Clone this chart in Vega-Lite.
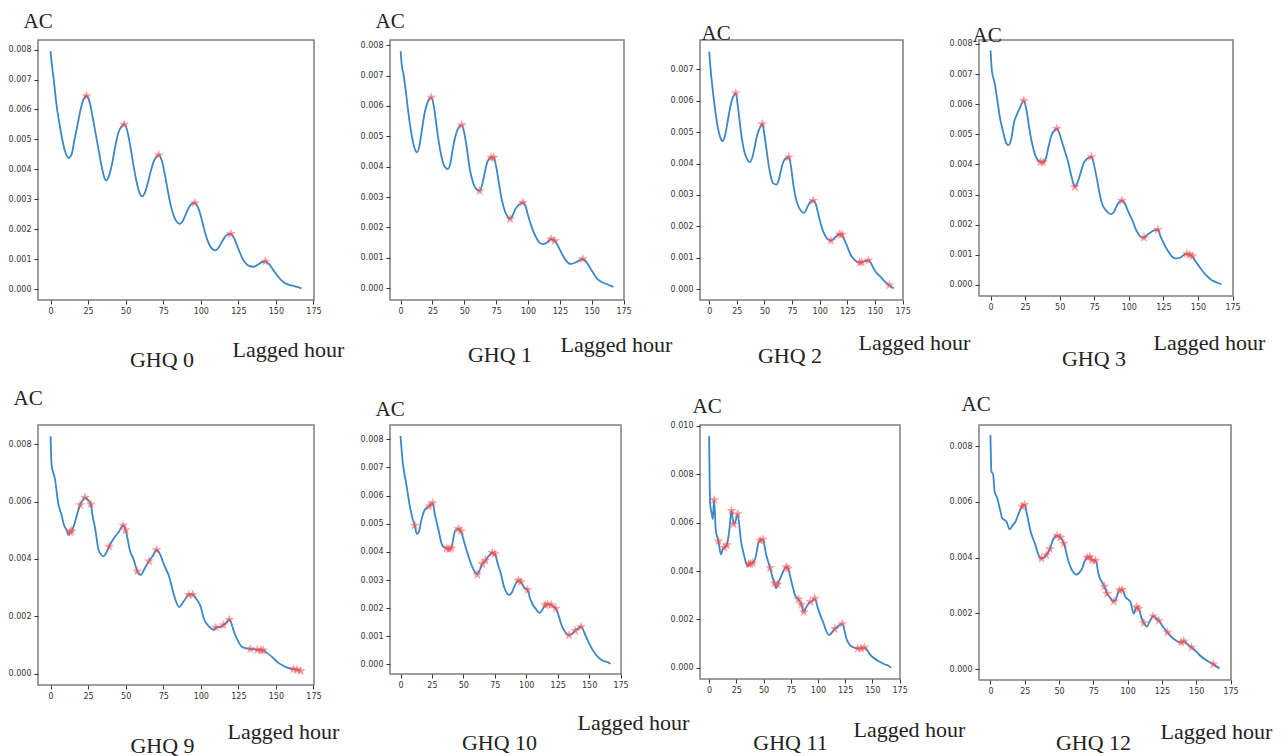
{
"$schema": "https://vega.github.io/schema/vega-lite/v6.json",
"background": "white",
"padding": {"left": 7, "top": 9, "right": 0, "bottom": 0},
"columns": 4,
"spacing": {"row": 125, "column": 76},
"bounds": "flush",
"center": false,
"config": {
  "view": {"stroke": "#7f7f7f", "strokeWidth": 1.5},
  "axis": {"domain": false, "grid": false, "ticks": true, "tickColor": "#333", "tickSize": 4, "tickWidth": 1, "labelFont": "DejaVu Sans", "labelFontSize": 8, "labelColor": "#333", "labelPadding": 3, "titleFont": "Liberation Serif", "titleFontWeight": "normal", "titleColor": "#222", "titlePadding": 0},
  "axisY": {"titleAngle": 0, "titleAlign": "left", "titleBaseline": "alphabetic", "titleFontSize": 21, "format": ".3f"},
  "axisX": {"titleAlign": "left", "titleBaseline": "alphabetic", "titleFontSize": 22, "labelFlush": false},
  "title": {"orient": "bottom", "frame": "group", "anchor": "middle", "font": "Liberation Serif", "fontSize": 22, "fontWeight": "normal", "color": "#222"},
  "line": {"color": "#3a88c8", "strokeWidth": 1.8, "interpolate": "monotone"},
  "point": {"shape": "M0,-1L0.235,-0.324L0.951,-0.309L0.38,0.124L0.588,0.809L0,0.4L-0.588,0.809L-0.38,0.124L-0.951,-0.309L-0.235,-0.324Z", "filled": true, "color": "#ff4b4b", "opacity": 0.55, "size": 110, "strokeWidth": 0}
},
"concat": [
{
 "width": 276, "height": 260,
 "title": {"text": "GHQ 0", "dx": -14, "offset": -10},
 "encoding": {
  "x": {"field": "h", "type": "quantitative", "scale": {"domain": [-8.35, 175.35], "nice": false, "zero": false}, "axis": {"values": [0,25,50,75,100,125,150,175], "title": "Lagged hour", "titleX": 194, "titleY": 56}},
  "y": {"field": "v", "type": "quantitative", "scale": {"domain": [-0.00036, 0.00832], "nice": false, "zero": false}, "axis": {"values": [0,0.001,0.002,0.003,0.004,0.005,0.006,0.007,0.008], "title": "AC", "titleX": -15, "titleY": -13}}
 },
 "layer": [
  {"data": {"values": [
{"h":0,"v":0.00795},{"h":1,"v":0.00745},{"h":2,"v":0.00705},{"h":4,"v":0.00615},{"h":6,"v":0.0055},{"h":8,"v":0.00495},{"h":10,"v":0.00455},{"h":12,"v":0.00438},{"h":14,"v":0.0045},{"h":16,"v":0.005},{"h":18,"v":0.0055},{"h":20,"v":0.006},{"h":22,"v":0.00635},{"h":24,"v":0.00645},{"h":26,"v":0.00625},{"h":28,"v":0.00575},{"h":30,"v":0.0052},{"h":32,"v":0.00465},{"h":34,"v":0.0041},{"h":36,"v":0.0037},{"h":37,"v":0.00363},{"h":39,"v":0.0038},{"h":41,"v":0.0042},{"h":43,"v":0.00475},{"h":45,"v":0.0052},{"h":47,"v":0.00542},{"h":49,"v":0.0055},{"h":51,"v":0.0053},{"h":53,"v":0.0048},{"h":55,"v":0.0042},{"h":57,"v":0.00365},{"h":59,"v":0.00325},{"h":61,"v":0.0031},{"h":63,"v":0.00325},{"h":65,"v":0.0036},{"h":67,"v":0.004},{"h":69,"v":0.0043},{"h":71,"v":0.00445},{"h":72,"v":0.00448},{"h":74,"v":0.0043},{"h":76,"v":0.00385},{"h":78,"v":0.0033},{"h":80,"v":0.0028},{"h":82,"v":0.00245},{"h":84,"v":0.00225},{"h":86,"v":0.00218},{"h":88,"v":0.00228},{"h":90,"v":0.0025},{"h":92,"v":0.00272},{"h":94,"v":0.00285},{"h":96,"v":0.00288},{"h":98,"v":0.00275},{"h":100,"v":0.00245},{"h":102,"v":0.00205},{"h":104,"v":0.0017},{"h":106,"v":0.00145},{"h":108,"v":0.00133},{"h":110,"v":0.0013},{"h":112,"v":0.0014},{"h":114,"v":0.00158},{"h":116,"v":0.00174},{"h":118,"v":0.00183},{"h":120,"v":0.00185},{"h":122,"v":0.00172},{"h":124,"v":0.00148},{"h":126,"v":0.00122},{"h":128,"v":0.001},{"h":130,"v":0.00086},{"h":132,"v":0.00078},{"h":135,"v":0.00075},{"h":138,"v":0.00082},{"h":141,"v":0.00091},{"h":143,"v":0.00093},{"h":145,"v":0.00086},{"h":148,"v":0.00066},{"h":151,"v":0.00045},{"h":154,"v":0.00028},{"h":157,"v":0.00018},{"h":160,"v":0.00013},{"h":164,"v":0.00008},{"h":167,"v":0.00003}
  ]}, "mark": "line"},
  {"data": {"values": [
{"h":24,"v":0.00645},{"h":49,"v":0.0055},{"h":72,"v":0.00448},{"h":96,"v":0.00288},{"h":120,"v":0.00185},{"h":143,"v":0.00093}
  ]}, "mark": "point"}
 ]
},
{
 "width": 234, "height": 260,
 "title": {"text": "GHQ 1", "dx": -7, "offset": -10},
 "encoding": {
  "x": {"field": "h", "type": "quantitative", "scale": {"domain": [-8.35, 175.35], "nice": false, "zero": false}, "axis": {"values": [0,25,50,75,100,125,150,175], "title": "Lagged hour", "titleX": 170, "titleY": 51}},
  "y": {"field": "v", "type": "quantitative", "scale": {"domain": [-0.00039, 0.00817], "nice": false, "zero": false}, "axis": {"values": [0,0.001,0.002,0.003,0.004,0.005,0.006,0.007,0.008], "title": "AC", "titleX": -15, "titleY": -13}}
 },
 "layer": [
  {"data": {"values": [
{"h":0,"v":0.0078},{"h":1,"v":0.0073},{"h":2,"v":0.0071},{"h":4,"v":0.0065},{"h":6,"v":0.0058},{"h":8,"v":0.0052},{"h":10,"v":0.00475},{"h":12,"v":0.0045},{"h":13,"v":0.00447},{"h":15,"v":0.00475},{"h":17,"v":0.0053},{"h":19,"v":0.0058},{"h":21,"v":0.0061},{"h":24,"v":0.00628},{"h":26,"v":0.006},{"h":28,"v":0.0054},{"h":30,"v":0.0048},{"h":32,"v":0.00435},{"h":34,"v":0.00405},{"h":37,"v":0.00392},{"h":39,"v":0.0041},{"h":41,"v":0.0046},{"h":43,"v":0.005},{"h":45,"v":0.00525},{"h":48,"v":0.00537},{"h":50,"v":0.0051},{"h":52,"v":0.0046},{"h":54,"v":0.004},{"h":56,"v":0.0036},{"h":58,"v":0.00335},{"h":60,"v":0.00325},{"h":62,"v":0.0032},{"h":64,"v":0.0034},{"h":66,"v":0.0038},{"h":68,"v":0.00415},{"h":70,"v":0.00428},{"h":71,"v":0.0043},{"h":73,"v":0.0043},{"h":75,"v":0.004},{"h":77,"v":0.0035},{"h":79,"v":0.003},{"h":81,"v":0.00265},{"h":84,"v":0.00235},{"h":86,"v":0.00228},{"h":88,"v":0.0024},{"h":90,"v":0.0026},{"h":93,"v":0.00275},{"h":96,"v":0.00282},{"h":98,"v":0.0027},{"h":100,"v":0.0024},{"h":103,"v":0.002},{"h":106,"v":0.0017},{"h":109,"v":0.0015},{"h":112,"v":0.00145},{"h":115,"v":0.0015},{"h":118,"v":0.00162},{"h":121,"v":0.00156},{"h":124,"v":0.00135},{"h":127,"v":0.0011},{"h":130,"v":0.0009},{"h":133,"v":0.0008},{"h":136,"v":0.00082},{"h":139,"v":0.00088},{"h":143,"v":0.00096},{"h":146,"v":0.00085},{"h":149,"v":0.00065},{"h":152,"v":0.00045},{"h":155,"v":0.00028},{"h":158,"v":0.0002},{"h":162,"v":0.00013},{"h":167,"v":0.00004}
  ]}, "mark": "line"},
  {"data": {"values": [
{"h":24,"v":0.00628},{"h":48,"v":0.00537},{"h":62,"v":0.0032},{"h":71,"v":0.0043},{"h":73,"v":0.0043},{"h":86,"v":0.00228},{"h":96,"v":0.00282},{"h":118,"v":0.00162},{"h":121,"v":0.00156},{"h":143,"v":0.00096}
  ]}, "mark": "point"}
 ]
},
{
 "width": 203, "height": 260,
 "title": {"text": "GHQ 2", "dx": -11.5, "offset": -7},
 "encoding": {
  "x": {"field": "h", "type": "quantitative", "scale": {"domain": [-8.35, 175.35], "nice": false, "zero": false}, "axis": {"values": [0,25,50,75,100,125,150,175], "title": "Lagged hour", "titleX": 158, "titleY": 49}},
  "y": {"field": "v", "type": "quantitative", "scale": {"domain": [-0.00034, 0.00793], "nice": false, "zero": false}, "axis": {"values": [0,0.001,0.002,0.003,0.004,0.005,0.006,0.007], "title": "AC", "titleX": 1, "titleY": -1}}
 },
 "layer": [
  {"data": {"values": [
{"h":0,"v":0.00756},{"h":1,"v":0.0071},{"h":3,"v":0.0064},{"h":5,"v":0.0058},{"h":7,"v":0.0053},{"h":9,"v":0.00495},{"h":11,"v":0.00475},{"h":12,"v":0.00471},{"h":14,"v":0.00485},{"h":16,"v":0.0052},{"h":18,"v":0.0056},{"h":20,"v":0.00595},{"h":22,"v":0.00615},{"h":24,"v":0.00624},{"h":26,"v":0.0058},{"h":28,"v":0.0052},{"h":30,"v":0.0047},{"h":32,"v":0.00435},{"h":35,"v":0.0041},{"h":37,"v":0.00405},{"h":39,"v":0.0042},{"h":41,"v":0.0045},{"h":43,"v":0.00485},{"h":46,"v":0.00515},{"h":48,"v":0.00526},{"h":50,"v":0.0049},{"h":52,"v":0.0044},{"h":54,"v":0.0039},{"h":56,"v":0.00355},{"h":58,"v":0.00337},{"h":61,"v":0.00333},{"h":63,"v":0.0035},{"h":65,"v":0.0038},{"h":67,"v":0.00405},{"h":70,"v":0.00418},{"h":72,"v":0.0042},{"h":74,"v":0.0039},{"h":76,"v":0.00335},{"h":78,"v":0.00295},{"h":80,"v":0.0027},{"h":83,"v":0.0025},{"h":86,"v":0.00243},{"h":88,"v":0.00255},{"h":90,"v":0.0027},{"h":92,"v":0.0028},{"h":94,"v":0.00282},{"h":96,"v":0.00275},{"h":98,"v":0.0025},{"h":100,"v":0.0022},{"h":103,"v":0.00185},{"h":106,"v":0.00165},{"h":108,"v":0.00158},{"h":110,"v":0.00155},{"h":113,"v":0.00162},{"h":116,"v":0.00172},{"h":118,"v":0.00175},{"h":120,"v":0.00174},{"h":122,"v":0.0016},{"h":125,"v":0.00135},{"h":128,"v":0.0011},{"h":131,"v":0.00095},{"h":134,"v":0.00087},{"h":136,"v":0.00085},{"h":138,"v":0.00086},{"h":141,"v":0.0009},{"h":144,"v":0.00092},{"h":146,"v":0.00085},{"h":149,"v":0.00065},{"h":152,"v":0.0005},{"h":155,"v":0.0004},{"h":158,"v":0.00028},{"h":161,"v":0.00018},{"h":163,"v":0.00013},{"h":167,"v":0.00003}
  ]}, "mark": "line"},
  {"data": {"values": [
{"h":24,"v":0.00624},{"h":48,"v":0.00526},{"h":72,"v":0.0042},{"h":94,"v":0.00282},{"h":110,"v":0.00155},{"h":118,"v":0.00175},{"h":120,"v":0.00174},{"h":136,"v":0.00085},{"h":138,"v":0.00086},{"h":144,"v":0.00092},{"h":163,"v":0.00013}
  ]}, "mark": "point"}
 ]
},
{
 "width": 254, "height": 256,
 "title": {"text": "GHQ 3", "dx": -12, "offset": -4},
 "encoding": {
  "x": {"field": "h", "type": "quantitative", "scale": {"domain": [-8.35, 175.35], "nice": false, "zero": false}, "axis": {"values": [0,25,50,75,100,125,150,175], "title": "Lagged hour", "titleX": 174, "titleY": 53}},
  "y": {"field": "v", "type": "quantitative", "scale": {"domain": [-0.00037, 0.00813], "nice": false, "zero": false}, "axis": {"values": [0,0.001,0.002,0.003,0.004,0.005,0.006,0.007,0.008], "title": "AC", "titleX": -7, "titleY": 1}}
 },
 "layer": [
  {"data": {"values": [
{"h":0,"v":0.00778},{"h":1,"v":0.0071},{"h":3,"v":0.0067},{"h":5,"v":0.0061},{"h":7,"v":0.0055},{"h":9,"v":0.0051},{"h":11,"v":0.00475},{"h":13,"v":0.00464},{"h":15,"v":0.00485},{"h":17,"v":0.0054},{"h":19,"v":0.00565},{"h":21,"v":0.00585},{"h":24,"v":0.00612},{"h":26,"v":0.0058},{"h":28,"v":0.0052},{"h":30,"v":0.0047},{"h":32,"v":0.00435},{"h":34,"v":0.00415},{"h":36,"v":0.00408},{"h":38,"v":0.00407},{"h":40,"v":0.0042},{"h":42,"v":0.0046},{"h":44,"v":0.00495},{"h":46,"v":0.00512},{"h":48,"v":0.00519},{"h":50,"v":0.005},{"h":52,"v":0.0047},{"h":54,"v":0.0044},{"h":56,"v":0.0041},{"h":58,"v":0.0037},{"h":60,"v":0.00335},{"h":61,"v":0.00325},{"h":63,"v":0.0034},{"h":65,"v":0.0037},{"h":67,"v":0.004},{"h":69,"v":0.00415},{"h":71,"v":0.00422},{"h":73,"v":0.00425},{"h":75,"v":0.00395},{"h":77,"v":0.0035},{"h":79,"v":0.003},{"h":81,"v":0.00265},{"h":83,"v":0.0025},{"h":85,"v":0.0024},{"h":87,"v":0.00235},{"h":89,"v":0.0024},{"h":91,"v":0.0026},{"h":93,"v":0.00275},{"h":95,"v":0.0028},{"h":97,"v":0.00272},{"h":99,"v":0.0025},{"h":101,"v":0.0023},{"h":103,"v":0.0021},{"h":105,"v":0.00185},{"h":107,"v":0.00168},{"h":109,"v":0.00158},{"h":111,"v":0.00157},{"h":113,"v":0.00165},{"h":116,"v":0.00175},{"h":119,"v":0.00182},{"h":121,"v":0.00183},{"h":123,"v":0.0016},{"h":125,"v":0.0014},{"h":128,"v":0.00115},{"h":131,"v":0.00095},{"h":134,"v":0.00088},{"h":137,"v":0.0009},{"h":140,"v":0.001},{"h":142,"v":0.00103},{"h":144,"v":0.001},{"h":146,"v":0.00095},{"h":148,"v":0.0008},{"h":151,"v":0.0006},{"h":154,"v":0.00042},{"h":157,"v":0.00027},{"h":160,"v":0.00015},{"h":164,"v":0.00007},{"h":167,"v":0.00002}
  ]}, "mark": "line"},
  {"data": {"values": [
{"h":24,"v":0.00612},{"h":36,"v":0.00408},{"h":38,"v":0.00407},{"h":48,"v":0.00519},{"h":61,"v":0.00325},{"h":73,"v":0.00425},{"h":95,"v":0.0028},{"h":111,"v":0.00157},{"h":121,"v":0.00183},{"h":142,"v":0.00103},{"h":144,"v":0.001},{"h":146,"v":0.00095}
  ]}, "mark": "point"}
 ]
},
{
 "width": 276, "height": 260,
 "title": {"text": "GHQ 9", "dx": -13.5, "offset": -6},
 "encoding": {
  "x": {"field": "h", "type": "quantitative", "scale": {"domain": [-8.35, 175.35], "nice": false, "zero": false}, "axis": {"values": [0,25,50,75,100,125,150,175], "title": "Lagged hour", "titleX": 189, "titleY": 53}},
  "y": {"field": "v", "type": "quantitative", "scale": {"domain": [-0.0004, 0.00867], "nice": false, "zero": false}, "axis": {"values": [0,0.002,0.004,0.006,0.008], "title": "AC", "titleX": -25, "titleY": -21}}
 },
 "layer": [
  {"data": {"values": [
{"h":0,"v":0.00828},{"h":0.7,"v":0.00728},{"h":3,"v":0.00677},{"h":5,"v":0.00597},{"h":7.4,"v":0.00551},{"h":9,"v":0.00517},{"h":10.7,"v":0.005},{"h":12,"v":0.00483},{"h":13,"v":0.00494},{"h":14,"v":0.00497},{"h":15.5,"v":0.00515},{"h":17.4,"v":0.0055},{"h":19.7,"v":0.00588},{"h":21.5,"v":0.00605},{"h":23,"v":0.00614},{"h":25,"v":0.00605},{"h":26.8,"v":0.00591},{"h":28,"v":0.0055},{"h":29.7,"v":0.00506},{"h":32,"v":0.00431},{"h":35.3,"v":0.00409},{"h":37,"v":0.0042},{"h":39,"v":0.00443},{"h":42,"v":0.00471},{"h":45.4,"v":0.00494},{"h":48.3,"v":0.00517},{"h":50,"v":0.005},{"h":53,"v":0.00426},{"h":55.4,"v":0.00397},{"h":57.7,"v":0.00357},{"h":60,"v":0.00344},{"h":63,"v":0.0037},{"h":65.5,"v":0.00392},{"h":68,"v":0.0041},{"h":70.6,"v":0.00431},{"h":73,"v":0.00415},{"h":75.5,"v":0.0038},{"h":79,"v":0.00337},{"h":82,"v":0.00277},{"h":85.6,"v":0.00232},{"h":89,"v":0.00255},{"h":92,"v":0.00275},{"h":94.5,"v":0.00275},{"h":97,"v":0.0026},{"h":99.7,"v":0.00237},{"h":102,"v":0.00192},{"h":105.7,"v":0.00163},{"h":109,"v":0.00152},{"h":110,"v":0.00161},{"h":112.5,"v":0.00162},{"h":115,"v":0.00169},{"h":117,"v":0.00178},{"h":119,"v":0.00188},{"h":122.5,"v":0.0014},{"h":127,"v":0.00095},{"h":130,"v":0.00088},{"h":133,"v":0.00086},{"h":135.5,"v":0.00084},{"h":137.7,"v":0.00083},{"h":140,"v":0.00081},{"h":141.5,"v":0.00081},{"h":144,"v":0.00072},{"h":147,"v":0.0006},{"h":151.5,"v":0.00038},{"h":156,"v":0.00024},{"h":159,"v":0.00018},{"h":161.6,"v":0.00015},{"h":164,"v":0.00013},{"h":166.5,"v":0.00009}
  ]}, "mark": "line"},
  {"data": {"values": [
{"h":13,"v":0.00494},{"h":14,"v":0.00497},{"h":19.7,"v":0.00588},{"h":23,"v":0.00614},{"h":26.8,"v":0.00591},{"h":39,"v":0.00443},{"h":48.3,"v":0.00517},{"h":50,"v":0.005},{"h":57.7,"v":0.00357},{"h":65.5,"v":0.00392},{"h":70.6,"v":0.00431},{"h":92,"v":0.00275},{"h":94.5,"v":0.00275},{"h":110,"v":0.00161},{"h":115,"v":0.00169},{"h":119,"v":0.00188},{"h":133,"v":0.00086},{"h":137.7,"v":0.00083},{"h":140,"v":0.00081},{"h":141.5,"v":0.00081},{"h":161.6,"v":0.00015},{"h":164,"v":0.00013},{"h":166.5,"v":0.00009}
  ]}, "mark": "point"}
 ]
},
{
 "width": 231, "height": 249,
 "title": {"text": "GHQ 10", "dx": -6, "offset": 0},
 "encoding": {
  "x": {"field": "h", "type": "quantitative", "scale": {"domain": [-8.35, 175.35], "nice": false, "zero": false}, "axis": {"values": [0,25,50,75,100,125,150,175], "title": "Lagged hour", "titleX": 187, "titleY": 55}},
  "y": {"field": "v", "type": "quantitative", "scale": {"domain": [-0.00034, 0.00851], "nice": false, "zero": false}, "axis": {"values": [0,0.001,0.002,0.003,0.004,0.005,0.006,0.007,0.008], "title": "AC", "titleX": -15, "titleY": -10}}
 },
 "layer": [
  {"data": {"values": [
{"h":0,"v":0.00812},{"h":1.9,"v":0.00714},{"h":4.6,"v":0.00641},{"h":7.2,"v":0.00568},{"h":9.5,"v":0.0052},{"h":11.3,"v":0.00494},{"h":13,"v":0.00464},{"h":14.5,"v":0.0047},{"h":16.6,"v":0.00513},{"h":19.3,"v":0.0055},{"h":22.8,"v":0.00562},{"h":25.5,"v":0.00574},{"h":27.5,"v":0.0053},{"h":30,"v":0.00482},{"h":33.5,"v":0.00421},{"h":36.8,"v":0.00413},{"h":38.5,"v":0.0041},{"h":40.3,"v":0.00413},{"h":43.5,"v":0.00476},{"h":46,"v":0.00482},{"h":48,"v":0.00474},{"h":51.5,"v":0.00421},{"h":54,"v":0.00385},{"h":57,"v":0.00348},{"h":61,"v":0.0032},{"h":63,"v":0.00335},{"h":65,"v":0.00357},{"h":67.6,"v":0.0037},{"h":70,"v":0.00385},{"h":73,"v":0.00397},{"h":75,"v":0.00393},{"h":77.5,"v":0.00355},{"h":79.7,"v":0.00324},{"h":82.4,"v":0.00275},{"h":86.4,"v":0.00247},{"h":88.5,"v":0.00255},{"h":90.4,"v":0.00275},{"h":93.7,"v":0.00299},{"h":95.8,"v":0.00293},{"h":98,"v":0.00275},{"h":101,"v":0.00265},{"h":103,"v":0.00235},{"h":105,"v":0.00214},{"h":108,"v":0.00195},{"h":110.6,"v":0.00183},{"h":113,"v":0.00195},{"h":115,"v":0.00211},{"h":117,"v":0.00214},{"h":120,"v":0.00211},{"h":123.5,"v":0.00199},{"h":126,"v":0.0017},{"h":128,"v":0.0014},{"h":131,"v":0.00115},{"h":134,"v":0.00104},{"h":136.5,"v":0.0011},{"h":139,"v":0.0012},{"h":143.6,"v":0.00134},{"h":146.5,"v":0.0011},{"h":149.5,"v":0.00079},{"h":153,"v":0.0005},{"h":157.5,"v":0.00024},{"h":161,"v":0.00013},{"h":165.6,"v":0.00006},{"h":167,"v":0.00002}
  ]}, "mark": "line"},
  {"data": {"values": [
{"h":11.3,"v":0.00494},{"h":22.8,"v":0.00562},{"h":25.5,"v":0.00574},{"h":36.8,"v":0.00413},{"h":38.5,"v":0.0041},{"h":40.3,"v":0.00413},{"h":46,"v":0.00482},{"h":48,"v":0.00474},{"h":61,"v":0.0032},{"h":65,"v":0.00357},{"h":67.6,"v":0.0037},{"h":73,"v":0.00397},{"h":75,"v":0.00393},{"h":93.7,"v":0.00299},{"h":95.8,"v":0.00293},{"h":101,"v":0.00265},{"h":115,"v":0.00211},{"h":117,"v":0.00214},{"h":120,"v":0.00211},{"h":123.5,"v":0.00199},{"h":134,"v":0.00104},{"h":139,"v":0.0012},{"h":143.6,"v":0.00134}
  ]}, "mark": "point"}
 ]
},
{
 "width": 200, "height": 254,
 "title": {"text": "GHQ 11", "dx": -9.5, "offset": -7},
 "encoding": {
  "x": {"field": "h", "type": "quantitative", "scale": {"domain": [-8.35, 175.35], "nice": false, "zero": false}, "axis": {"values": [0,25,50,75,100,125,150,175], "title": "Lagged hour", "titleX": 153, "titleY": 57}},
  "y": {"field": "v", "type": "quantitative", "scale": {"domain": [-0.00046, 0.01004], "nice": false, "zero": false}, "axis": {"values": [0,0.002,0.004,0.006,0.008,0.01], "title": "AC", "titleX": -8, "titleY": -13}}
 },
 "layer": [
  {"data": {"values": [
{"h":0,"v":0.00958},{"h":1,"v":0.00678},{"h":2.5,"v":0.00636},{"h":3.4,"v":0.00615},{"h":4.6,"v":0.00695},{"h":6.2,"v":0.00566},{"h":8.6,"v":0.00524},{"h":10.8,"v":0.00469},{"h":12.5,"v":0.0049},{"h":13.9,"v":0.00497},{"h":16.3,"v":0.00508},{"h":18.5,"v":0.00566},{"h":20.6,"v":0.0065},{"h":22.5,"v":0.00594},{"h":24.5,"v":0.0061},{"h":26.2,"v":0.00636},{"h":29.3,"v":0.00524},{"h":32.3,"v":0.00462},{"h":35.4,"v":0.0042},{"h":36.4,"v":0.00429},{"h":38,"v":0.0043},{"h":40,"v":0.00434},{"h":43,"v":0.00462},{"h":45.3,"v":0.00517},{"h":46.8,"v":0.00527},{"h":49.3,"v":0.00531},{"h":52.4,"v":0.00469},{"h":56,"v":0.00413},{"h":58.5,"v":0.00371},{"h":60,"v":0.0035},{"h":61.6,"v":0.00329},{"h":63,"v":0.00345},{"h":66.2,"v":0.00378},{"h":69.3,"v":0.0041},{"h":70.9,"v":0.00417},{"h":72.4,"v":0.0041},{"h":76,"v":0.0035},{"h":79,"v":0.003},{"h":82,"v":0.00284},{"h":84.7,"v":0.00262},{"h":86.9,"v":0.00231},{"h":89.3,"v":0.00252},{"h":93,"v":0.00273},{"h":94.6,"v":0.00276},{"h":97,"v":0.00287},{"h":100,"v":0.00245},{"h":104.7,"v":0.00189},{"h":110,"v":0.00136},{"h":115.5,"v":0.00161},{"h":122.3,"v":0.00182},{"h":126.3,"v":0.00119},{"h":131,"v":0.00088},{"h":136.5,"v":0.0008},{"h":139.6,"v":0.0008},{"h":142.6,"v":0.00084},{"h":149,"v":0.00049},{"h":155.6,"v":0.00028},{"h":161.7,"v":0.00014},{"h":164.5,"v":0.0001},{"h":167,"v":0.0}
  ]}, "mark": "line"},
  {"data": {"values": [
{"h":4.6,"v":0.00695},{"h":8.6,"v":0.00524},{"h":13.9,"v":0.00497},{"h":16.3,"v":0.00508},{"h":20.6,"v":0.0065},{"h":22.5,"v":0.00594},{"h":26.2,"v":0.00636},{"h":36.4,"v":0.00429},{"h":38,"v":0.0043},{"h":40,"v":0.00434},{"h":46.8,"v":0.00527},{"h":49.3,"v":0.00531},{"h":56,"v":0.00413},{"h":60,"v":0.0035},{"h":63,"v":0.00345},{"h":70.9,"v":0.00417},{"h":72.4,"v":0.0041},{"h":82,"v":0.00284},{"h":84.7,"v":0.00262},{"h":86.9,"v":0.00231},{"h":93,"v":0.00273},{"h":97,"v":0.00287},{"h":115.5,"v":0.00161},{"h":122.3,"v":0.00182},{"h":136.5,"v":0.0008},{"h":139.6,"v":0.0008},{"h":142.6,"v":0.00084}
  ]}, "mark": "point"}
 ]
},
{
 "width": 252, "height": 255,
 "title": {"text": "GHQ 12", "dx": -11.5, "offset": -9},
 "encoding": {
  "x": {"field": "h", "type": "quantitative", "scale": {"domain": [-8.35, 175.35], "nice": false, "zero": false}, "axis": {"values": [0,25,50,75,100,125,150,175], "title": "Lagged hour", "titleX": 181, "titleY": 58}},
  "y": {"field": "v", "type": "quantitative", "scale": {"domain": [-0.00039, 0.00876], "nice": false, "zero": false}, "axis": {"values": [0,0.002,0.004,0.006,0.008], "title": "AC", "titleX": -18, "titleY": -15}}
 },
 "layer": [
  {"data": {"values": [
{"h":0,"v":0.0084},{"h":0.7,"v":0.0071},{"h":2,"v":0.00698},{"h":3,"v":0.00638},{"h":4.9,"v":0.00614},{"h":7.3,"v":0.00566},{"h":8.5,"v":0.00542},{"h":11.7,"v":0.00529},{"h":14,"v":0.00502},{"h":16,"v":0.00515},{"h":18.2,"v":0.00529},{"h":20.7,"v":0.0056},{"h":23,"v":0.00584},{"h":24.8,"v":0.0059},{"h":26.7,"v":0.00554},{"h":29,"v":0.00499},{"h":32.8,"v":0.00445},{"h":35,"v":0.0041},{"h":37.2,"v":0.00397},{"h":40.6,"v":0.00409},{"h":43.3,"v":0.00431},{"h":46,"v":0.00469},{"h":48.6,"v":0.00479},{"h":51,"v":0.00473},{"h":53.5,"v":0.00451},{"h":57,"v":0.00385},{"h":60,"v":0.0035},{"h":62.5,"v":0.00339},{"h":64.5,"v":0.00345},{"h":66.8,"v":0.00361},{"h":68.5,"v":0.00385},{"h":70.5,"v":0.00401},{"h":72.4,"v":0.00403},{"h":74,"v":0.00391},{"h":76.6,"v":0.00389},{"h":79,"v":0.00337},{"h":83,"v":0.00297},{"h":85,"v":0.00271},{"h":86.8,"v":0.00259},{"h":90,"v":0.00243},{"h":91,"v":0.00247},{"h":94,"v":0.00283},{"h":96,"v":0.00285},{"h":98.4,"v":0.00259},{"h":102,"v":0.00241},{"h":104.5,"v":0.00199},{"h":106.5,"v":0.00223},{"h":108,"v":0.00217},{"h":110,"v":0.00185},{"h":111.8,"v":0.00166},{"h":114,"v":0.00153},{"h":116,"v":0.0017},{"h":118.6,"v":0.0019},{"h":122.7,"v":0.00174},{"h":126,"v":0.0015},{"h":129,"v":0.00132},{"h":133.7,"v":0.00108},{"h":137,"v":0.00098},{"h":139,"v":0.00096},{"h":141,"v":0.001},{"h":143.5,"v":0.0009},{"h":146.6,"v":0.00078},{"h":150,"v":0.00063},{"h":153,"v":0.00048},{"h":158,"v":0.0003},{"h":162.4,"v":0.00018},{"h":167,"v":0.00002}
  ]}, "mark": "line"},
  {"data": {"values": [
{"h":23,"v":0.00584},{"h":24.8,"v":0.0059},{"h":37.2,"v":0.00397},{"h":40.6,"v":0.00409},{"h":43.3,"v":0.00431},{"h":48.6,"v":0.00479},{"h":51,"v":0.00473},{"h":53.5,"v":0.00451},{"h":70.5,"v":0.00401},{"h":72.4,"v":0.00403},{"h":74,"v":0.00391},{"h":76.6,"v":0.00389},{"h":83,"v":0.00297},{"h":85,"v":0.00271},{"h":90,"v":0.00243},{"h":94,"v":0.00283},{"h":96,"v":0.00285},{"h":106.5,"v":0.00223},{"h":108,"v":0.00217},{"h":111.8,"v":0.00166},{"h":118.6,"v":0.0019},{"h":122.7,"v":0.00174},{"h":129,"v":0.00132},{"h":139,"v":0.00096},{"h":141,"v":0.001},{"h":146.6,"v":0.00078},{"h":162.4,"v":0.00018}
  ]}, "mark": "point"}
 ]
}
]
}
